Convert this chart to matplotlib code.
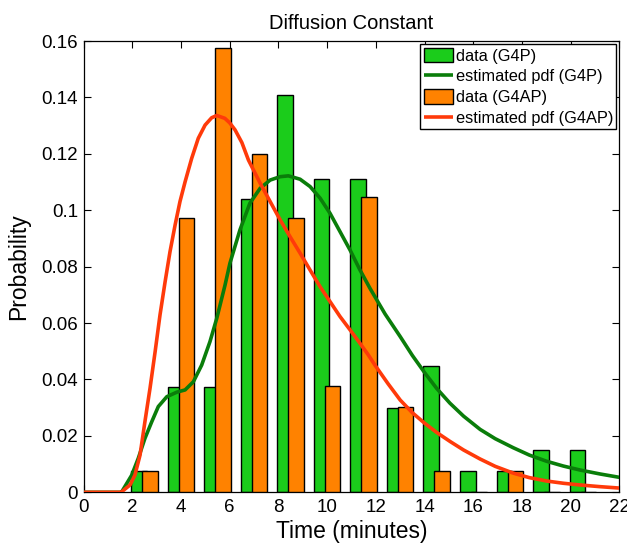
import matplotlib
matplotlib.use("Agg")
import matplotlib.pyplot as plt
import numpy as np

plt.rcParams['font.family'] = ['Liberation Sans', 'DejaVu Sans']

# bin centres (minutes)
bin_centers = [1.0, 2.5, 4.0, 5.5, 7.0, 8.5, 10.0, 11.5, 13.0, 14.5, 16.0, 17.5, 19.0, 20.5]
g4p_prob = [0.0, 0.0077, 0.0372, 0.0372, 0.1039, 0.1408, 0.1111, 0.1111, 0.0299, 0.0447, 0.0077, 0.0077, 0.0150, 0.0150]
g4ap_prob = [0.0, 0.0077, 0.0974, 0.1574, 0.1200, 0.0974, 0.0377, 0.1048, 0.0301, 0.0077, 0.0, 0.0077, 0.0, 0.0]

# estimated pdf curves
g4p_pdf_x = [0.0, 1.50, 1.57, 1.98, 2.25, 2.52, 2.80, 3.07, 3.42, 3.83, 4.17, 4.51, 4.85, 5.19, 5.47,
             5.81, 6.01, 6.42, 6.83, 7.25, 7.66, 8.07, 8.41, 8.89, 9.30, 9.71, 10.12, 10.53, 10.94,
             11.35, 11.76, 12.38, 13.0, 13.5, 14.02, 14.5, 15.04, 15.6, 16.28, 16.9, 17.64, 18.3,
             19.01, 19.7, 20.38, 21.2, 22.0]
g4p_pdf_y = [0.0, 0.0, 0.0002, 0.0061, 0.0121, 0.0191, 0.0250, 0.0304, 0.0339, 0.0355, 0.0363, 0.0392,
             0.0451, 0.0534, 0.0617, 0.0735, 0.0812, 0.0930, 0.1025, 0.1078, 0.1107, 0.1119, 0.1122,
             0.1110, 0.1084, 0.1043, 0.0989, 0.0924, 0.0859, 0.0788, 0.0723, 0.0632, 0.0552, 0.0485,
             0.0422, 0.0368, 0.0316, 0.0270, 0.0223, 0.0190, 0.0158, 0.0132, 0.0110, 0.0093, 0.0079,
             0.0065, 0.0053]
g4ap_pdf_x = [0.0, 1.50, 1.57, 1.91, 2.11, 2.32, 2.52, 2.73, 2.94, 3.14, 3.35, 3.55, 3.76, 3.96, 4.17,
              4.44, 4.71, 4.99, 5.26, 5.47, 5.80, 6.0, 6.22, 6.50, 6.77, 7.25, 7.66, 8.07, 8.48, 8.89,
              9.30, 9.71, 10.12, 10.53, 10.94, 11.35, 11.69, 11.97, 12.5, 13.0, 13.5, 14.0, 14.5, 15.05,
              15.6, 16.28, 16.9, 17.64, 18.3, 19.01, 19.7, 20.38, 21.2, 22.0]
g4ap_pdf_y = [0.0, 0.0, 0.0002, 0.0026, 0.0061, 0.0132, 0.0250, 0.0369, 0.0499, 0.0629, 0.0747, 0.0853,
              0.0948, 0.1031, 0.1101, 0.1184, 0.1255, 0.1302, 0.1328, 0.1336, 0.1326, 0.1310, 0.1285,
              0.1240, 0.1178, 0.1096, 0.1031, 0.0966, 0.0906, 0.0848, 0.0788, 0.0729, 0.0676, 0.0623,
              0.0576, 0.0528, 0.0487, 0.0450, 0.0385, 0.0327, 0.0282, 0.0245, 0.0212, 0.0180, 0.0150,
              0.0118, 0.0092, 0.0068, 0.0052, 0.0040, 0.0032, 0.0026, 0.0020, 0.0015]

xticks = [0, 2, 4, 6, 8, 10, 12, 14, 16, 18, 20, 22]
yticks = [0, 0.02, 0.04, 0.06, 0.08, 0.1, 0.12, 0.14, 0.16]
ytick_labels = ['0', '0.02', '0.04', '0.06', '0.08', '0.1', '0.12', '0.14', '0.16']

green_face = '#1BCC1B'
orange_face = '#FF8200'
green_line = '#0A7D0A'
red_line = '#FF3A0A'

fig = plt.figure(figsize=(6.27, 5.47), dpi=100)
ax = fig.add_axes([0.1332, 0.1, 0.8548, 0.825])

bc = np.array(bin_centers)
w = 0.64
off = 0.225
b1 = ax.bar(bc - off, g4p_prob, width=w, color=green_face, edgecolor='black', linewidth=1.0,
            label='data (G4P)', zorder=2)
l1, = ax.plot(g4p_pdf_x, g4p_pdf_y, color=green_line, linewidth=2.6, label='estimated pdf (G4P)',
              zorder=4, solid_capstyle='butt', solid_joinstyle='round')
b2 = ax.bar(bc + off, g4ap_prob, width=w, color=orange_face, edgecolor='black', linewidth=1.0,
            label='data (G4AP)', zorder=3)
l2, = ax.plot(g4ap_pdf_x, g4ap_pdf_y, color=red_line, linewidth=2.6, label='estimated pdf (G4AP)',
              zorder=5, solid_capstyle='butt', solid_joinstyle='round')

ax.set_xlim(0, 22)
ax.set_ylim(0, 0.16)
ax.set_xticks(xticks)
ax.set_yticks(yticks)
ax.set_yticklabels(ytick_labels)
ax.tick_params(direction='in', length=5, width=0.8, top=True, right=True, labelsize=13.5)
ax.tick_params(axis='x', pad=5)
ax.tick_params(axis='y', pad=4)
for s in ax.spines.values():
    s.set_linewidth(0.9)

ax.set_title('Diffusion Constant', fontsize=14.5, pad=9)
ax.set_xlabel('Time (minutes)', fontsize=16.5, labelpad=3)
ax.set_ylabel('Probability', fontsize=16.5, labelpad=8)

leg = ax.legend([b1, l1, b2, l2],
                ['data (G4P)', 'estimated pdf (G4P)', 'data (G4AP)', 'estimated pdf (G4AP)'],
                loc='upper right', fontsize=11.8, frameon=True, fancybox=False,
                edgecolor='black', framealpha=1, borderpad=0.2, labelspacing=0.3,
                handlelength=1.8, handleheight=1.0, handletextpad=0.15, borderaxespad=0.2)
leg.get_frame().set_linewidth(1.0)

fig.savefig('out.png', dpi=100)
